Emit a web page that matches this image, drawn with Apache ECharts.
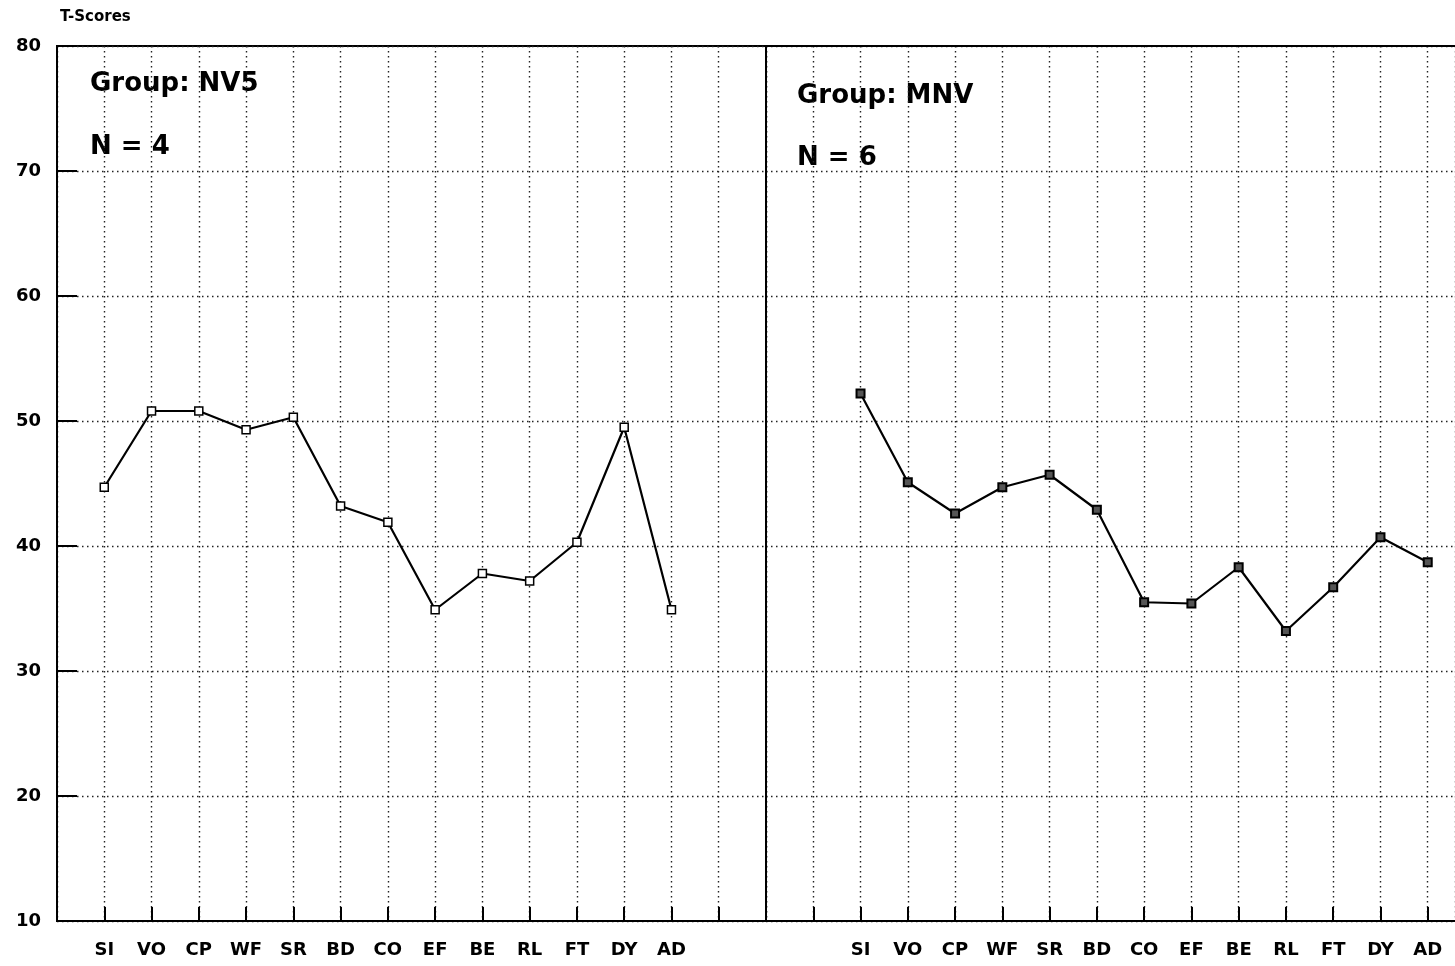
<!DOCTYPE html>
<html>
<head>
<meta charset="utf-8">
<script src="https://cdn.jsdelivr.net/npm/echarts@6/dist/echarts.min.js"></script>
<style>
  html, body { margin: 0; padding: 0; background: #fff; }
  #chart { width: 1455px; height: 966px; }
</style>
</head>
<body>
<div id="chart"></div>
<script>
// subtest codes along the x axis
var categories = ['SI', 'VO', 'CP', 'WF', 'SR', 'BD', 'CO', 'EF', 'BE', 'RL', 'FT', 'DY', 'AD'];
// mean T-scores per group
var nv5Scores = [44.7, 50.8, 50.8, 49.3, 50.3, 43.2, 41.9, 34.9, 37.8, 37.2, 40.3, 49.5, 34.9];
var mnvScores = [52.2, 45.1, 42.6, 44.7, 45.7, 42.9, 35.5, 35.4, 38.3, 33.2, 36.7, 40.7, 38.7];
// first category slot in each panel
var nv5Offset = 1;
var mnvOffset = 2;

var font = 'DejaVu Sans';
var dotted = { color: '#222', width: 1.4, type: [1.5, 3.5] };
// one slot is ~47.3px; the right panel is cut by the page edge
var slot = 709 / 15;
var rightMax = (1455 - 766) / slot;

function toPoints(values, offset) {
    return values.map(function (v, i) { return [i + offset, v]; });
}

function xAxisFor(gridIndex, offset, max) {
    return {
        type: 'value', gridIndex: gridIndex,
        min: 0, max: max, interval: 1,
        axisLine: { show: true, lineStyle: { color: '#000', width: 2 } },
        axisTick: { show: true, inside: true, length: 14, lineStyle: { color: '#000', width: 2 } },
        axisLabel: {
            margin: 20, showMaxLabel: false,
            color: '#000', fontFamily: font, fontWeight: 'bold', fontSize: 18,
            formatter: function (v) {
                var c = categories[v - offset];
                return c ? c : '';
            }
        },
        splitLine: { show: true, lineStyle: dotted }
    };
}

function yAxisFor(gridIndex, withLabels) {
    return {
        type: 'value', gridIndex: gridIndex,
        min: 10, max: 80, interval: 10,
        axisLine: { show: true, lineStyle: { color: '#000', width: 2 } },
        axisTick: { show: withLabels, inside: true, length: 20, lineStyle: { color: '#000', width: 2 } },
        axisLabel: {
            show: withLabels, margin: 16,
            color: '#000', fontFamily: font, fontWeight: 'bold', fontSize: 18
        },
        splitLine: { show: true, lineStyle: dotted }
    };
}

function groupText(x, y, text) {
    return {
        type: 'text', left: x, top: y,
        style: { text: text, fill: '#000', font: 'bold 26px "' + font + '"' }
    };
}

var option = {
    animation: false,
    backgroundColor: '#fff',
    grid: [
        { left: 57, top: 46, width: 709, height: 875, show: true, borderColor: '#000', borderWidth: 2 },
        { left: 766, top: 46, right: 0, height: 875 }
    ],
    xAxis: [
        xAxisFor(0, nv5Offset, 15),
        xAxisFor(1, mnvOffset, rightMax),
        // top frame line of the right panel
        {
            type: 'value', gridIndex: 1, position: 'top', min: 0, max: rightMax,
            axisLine: { show: true, lineStyle: { color: '#000', width: 2 } },
            axisTick: { show: false }, axisLabel: { show: false }, splitLine: { show: false }
        }
    ],
    yAxis: [yAxisFor(0, true), yAxisFor(1, false)],
    graphic: [
        {
            type: 'text', left: 60, top: 10,
            style: { text: 'T-Scores', fill: '#000', font: 'bold 15px "' + font + '"' }
        },
        groupText(90, 71, 'Group: NV5'),
        groupText(90, 134, 'N = 4'),
        groupText(797, 83, 'Group: MNV'),
        groupText(797, 145, 'N = 6')
    ],
    series: [
        {
            name: 'NV5', type: 'line', xAxisIndex: 0, yAxisIndex: 0,
            data: toPoints(nv5Scores, nv5Offset),
            symbol: 'rect', symbolSize: 8,
            lineStyle: { color: '#000', width: 2.2 },
            itemStyle: { color: '#fff', borderColor: '#000', borderWidth: 1.5 }
        },
        {
            name: 'MNV', type: 'line', xAxisIndex: 1, yAxisIndex: 1,
            data: toPoints(mnvScores, mnvOffset),
            symbol: 'rect', symbolSize: 8,
            lineStyle: { color: '#000', width: 2.2 },
            itemStyle: { color: '#555', borderColor: '#000', borderWidth: 2 }
        }
    ]
};

var myChart = echarts.init(document.getElementById('chart'));
myChart.setOption(option);
</script>
</body>
</html>
